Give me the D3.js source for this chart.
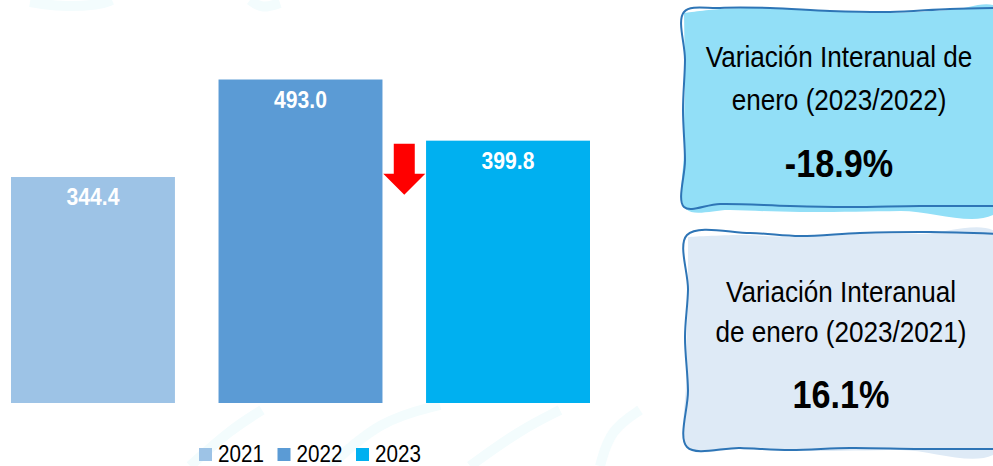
<!DOCTYPE html>
<html>
<head>
<meta charset="utf-8">
<script src="https://cdn.jsdelivr.net/npm/d3@7"></script>
<style>
  html, body { margin: 0; padding: 0; background: #ffffff; }
  svg { display: block; }
</style>
</head>
<body>
<div id="chart"></div>
<script>
// data
var years = ["2021", "2022", "2023"];
var values = [344.4, 493.0, 399.8];
var colors = ["#9dc3e6", "#5b9bd5", "#00b0f0"];

var boxLines1 = ["Variación Interanual de", "enero (2023/2022)"];
var boxValue1 = "-18.9%";
var boxLines2 = ["Variación Interanual", "de enero (2023/2021)"];
var boxValue2 = "16.1%";

var width = 993, height = 466;
var font = '"Liberation Sans", Arial, sans-serif';

var svg = d3.select("#chart").append("svg")
  .attr("width", width).attr("height", height);

var layers = {};
layers.back = svg.append("g");
layers.bars = svg.append("g");
layers.boxes = svg.append("g");

//no narrow font installed, so squeeze a normal one horizontally
function narrowText(sel, px, py, txt, size, weight, sx, anchor){
  return sel.append("g").attr("transform","translate(" + px + "," + py + ") scale(" + sx + ",1)")
    .append("text").attr("text-anchor", anchor || "middle")
    .style("font-family", font).style("font-size", size + "px").style("font-weight", weight)
    .text(txt);
}

// faint watermark behind everything
var wm = d3.line().curve(d3.curveBasis);
[
  [[30,2],[60,7],[100,5],[112,0]],
  [[250,0],[262,9],[280,3]],
  [[190,466],[230,430],[262,410]],
  [[330,466],[380,420],[440,405]],
  [[470,466],[520,430],[560,410]],
  [[600,466],[610,430],[640,410]]
].forEach(function(pts){
  layers.back.append("path").attr("d", wm(pts))
    .attr("fill","none").attr("stroke","#f3fcfd").attr("stroke-width",10);
});

// scales
var x = d3.scaleBand().domain(years).range([11, 590]).paddingInner(0.21).paddingOuter(0);
var y = d3.scaleLinear().domain([0, 600]).range([403, 9.3]);
var col = d3.scaleOrdinal().domain(years).range(colors);

var data = years.map(function(d,i){ return {year:d, value:values[i]}; });

layers.bars.selectAll("rect.bar").data(data).enter().append("rect")
  .attr("class","bar")
  .attr("x", function(d){ return x(d.year); })
  .attr("y", function(d){ return y(d.value); })
  .attr("width", x.bandwidth())
  .attr("height", function(d){ return y(0) - y(d.value); })
  .attr("fill", function(d){ return col(d.year); });

data.forEach(function(d){
  narrowText(layers.bars, x(d.year) + x.bandwidth()/2, y(d.value) + 28, d.value.toFixed(1), 24, "bold", 0.88)
    .attr("fill","#ffffff");
});

// red down arrow between 2022 and 2023
var ax = (x("2022") + x.bandwidth() + x("2023")) / 2;
var at = y(values[2]) + 3;
layers.bars.append("path")
  .attr("d", "M" + (ax-10.5) + "," + at + " L" + (ax+10.5) + "," + at +
    " L" + (ax+10.5) + "," + (at+30) + " L" + (ax+21) + "," + (at+30) +
    " L" + ax + "," + (at+51) + " L" + (ax-21) + "," + (at+30) +
    " L" + (ax-10.5) + "," + (at+30) + "Z")
  .attr("fill","#ff0000");

// legend
var lg = layers.bars.append("g").attr("transform","translate(199,448)");
years.forEach(function(d,i){
  var it = lg.append("g").attr("transform","translate(" + (i*78.5) + ",0)");
  it.append("rect").attr("width",13).attr("height",13).attr("fill", col(d));
  narrowText(it, 19, 14, d, 24, "normal", 0.86, "start").attr("fill","#000");
});

// hand drawn boxes
var wobble = d3.line().curve(d3.curveCatmullRom);

function drawBox(fillPts, strokePts, fill, lines, value, cx, baselines){
  var g = layers.boxes.append("g");
  g.append("path").attr("d", wobble(fillPts) + "Z").attr("fill", fill);
  g.append("path").attr("d", wobble(strokePts))
    .attr("fill","none").attr("stroke","#2e75b6").attr("stroke-width",2)
    .attr("stroke-linejoin","round");
  lines.forEach(function(t,i){
    narrowText(g, cx, baselines[i], t, 30, "normal", 0.87).attr("fill","#000");
  });
  narrowText(g, cx, baselines[2], value, 38, "bold", 0.9).attr("fill","#000");
}

drawBox(
  [[684,13],[720,9],[770,8],[830,11],[890,13],[950,10],[1000,9],[1000,210],[900,211],[800,212],[730,210],[686,209],[684,150],[685,80]],
  [[1000,8],[950,9],[890,12],[830,11],[770,8],[720,8],[684,12],[685,60],[683,110],[685,160],[684,207],[720,204],[790,206],[850,207],[920,206],[1000,206]],
  "#92dff7", boxLines1, boxValue1, 839, [67, 110, 177]);

drawBox(
  [[688,237],[740,235],[790,237],[850,234],[920,234],[1000,235],[1000,450],[900,450],[800,451],[740,449],[689,448],[686,380],[688,300]],
  [[1000,234],[930,232],[860,233],[800,236],[750,233],[687,235],[688,290],[685,337],[688,390],[687,447],[740,448],[790,450],[850,448],[920,449],[1000,449]],
  "#deeaf6", boxLines2, boxValue2, 841, [302, 342, 408]);
</script>
</body>
</html>
